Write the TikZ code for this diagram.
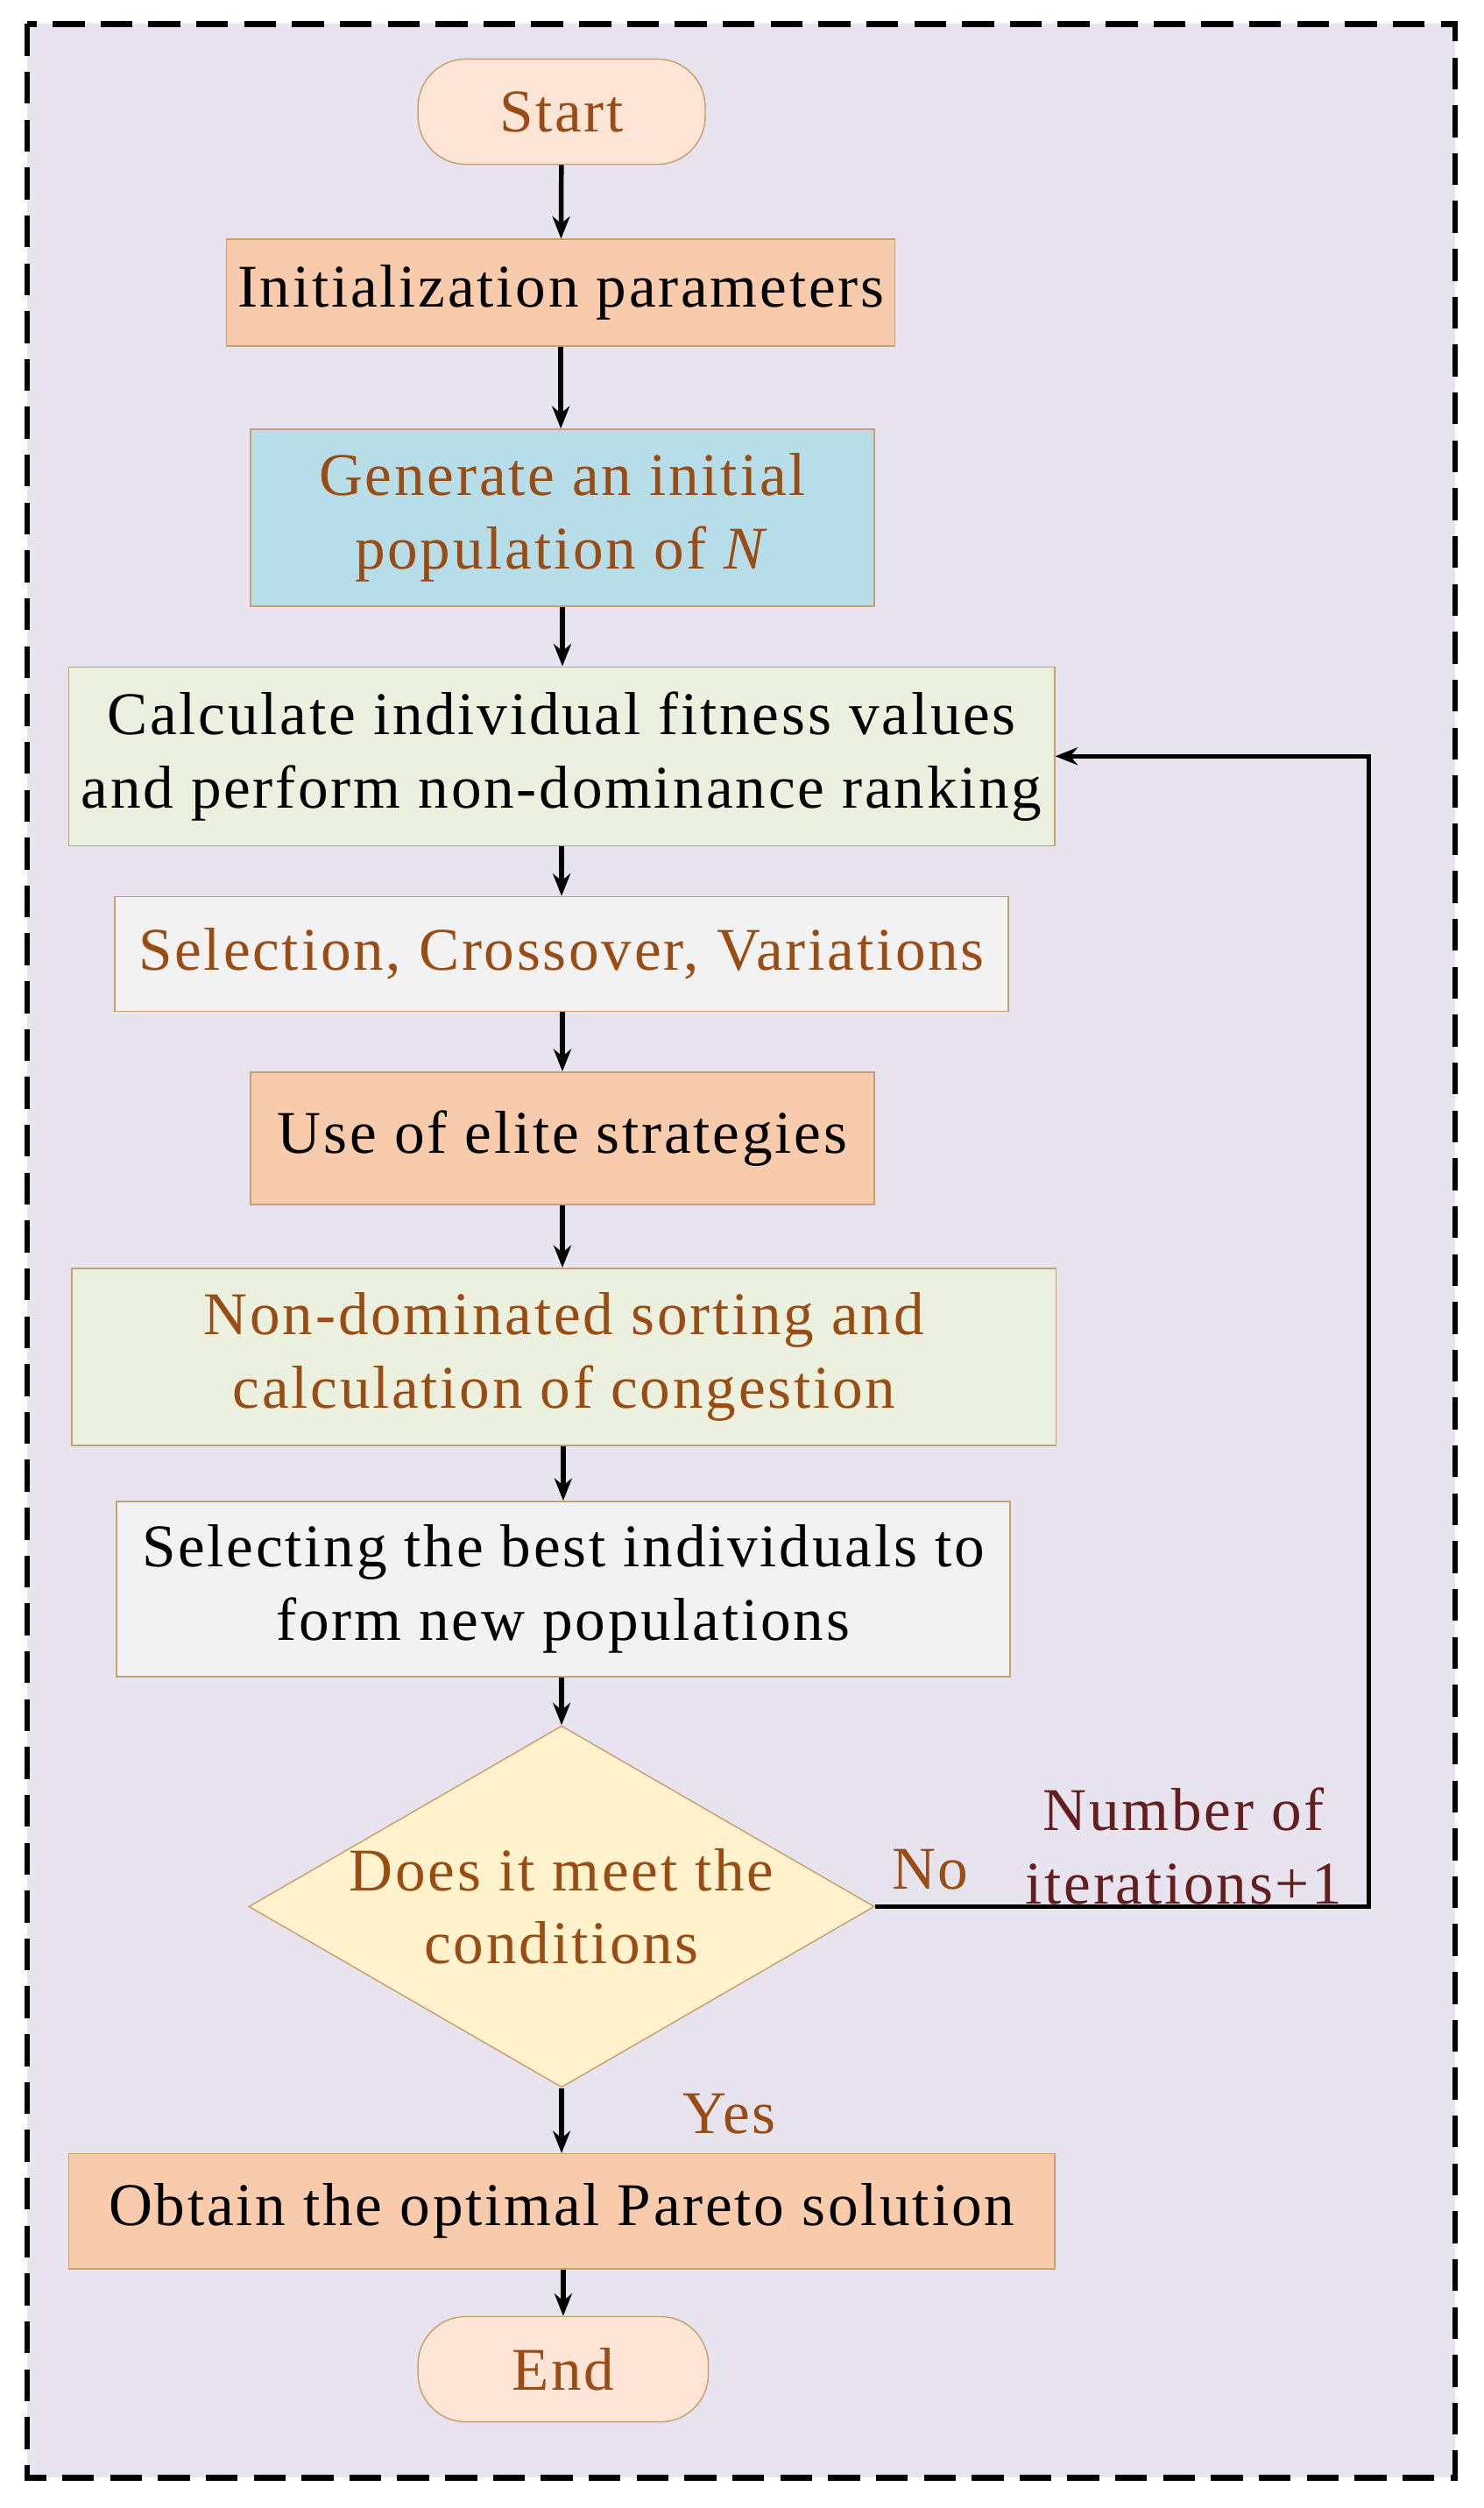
\documentclass[tikz,border=0pt]{standalone}
\usepackage{fontspec}
\setmainfont{Liberation Serif}
\usetikzlibrary{shapes.geometric,arrows.meta}
\definecolor{txo}{RGB}{153,76,20}
\definecolor{txr}{RGB}{100,30,30}
\definecolor{bg}{RGB}{231,228,239}
\definecolor{peach}{RGB}{248,203,173}
\definecolor{lpeach}{RGB}{252,228,214}
\definecolor{lblue}{RGB}{183,221,232}
\definecolor{lgreen}{RGB}{235,241,222}
\definecolor{lgray}{RGB}{242,242,242}
\definecolor{lyel}{RGB}{255,242,204}
\definecolor{bd}{RGB}{200,160,110}
\begin{document}
\begin{tikzpicture}[x=1pt,y=-1pt,
  box/.style={draw=bd,line width=0.8pt,inner sep=0pt,align=center,font=\fontsize{38}{46}\selectfont\addfontfeatures{LetterSpace=4}},
  ar/.style={-{Stealth[length=14pt,width=11pt]},line width=3pt},
  lab/.style={font=\fontsize{38}{46}\selectfont\addfontfeatures{LetterSpace=4},align=center}]
\useasboundingbox (0,0) rectangle (930,1572);
\fill[bg] (17,15) rectangle (912,1553);
\draw[line width=3.5pt,dash pattern=on 20pt off 10pt] (17,15) rectangle (912,1553);
\node[box,fill=lpeach,rounded corners=30pt,minimum width=180pt,minimum height=66pt,text=txo] (start) at (352,70) {Start};
\node[box,fill=peach,minimum width=419pt,minimum height=67pt] (init) at (351.5,183.5) {Initialization parameters};
\node[box,fill=lblue,minimum width=391pt,minimum height=111pt,text=txo] (gen) at (352.5,324.5) {Generate an initial\\population of \textit{N}};
\node[box,fill=lgreen,minimum width=618pt,minimum height=112pt] (calc) at (352,474) {Calculate individual fitness values\\and perform non-dominance ranking};
\node[box,fill=lgray,minimum width=560pt,minimum height=72pt,text=txo] (sel) at (352,598) {Selection, Crossover, Variations};
\node[box,fill=peach,minimum width=391pt,minimum height=83pt] (eli) at (352.5,713.5) {Use of elite strategies};
\node[box,fill=lgreen,minimum width=617pt,minimum height=111pt,text=txo] (non) at (353.5,850.5) {Non-dominated sorting and\\calculation of congestion};
\node[box,fill=lgray,minimum width=560pt,minimum height=110pt] (best) at (353,996) {Selecting the best individuals to\\form new populations};
\node[box,fill=lyel,diamond,aspect=1.73,minimum width=390pt,minimum height=224pt,text=txo] (dec) at (352,1195) {Does it meet the\\conditions};
\node[box,fill=peach,minimum width=618pt,minimum height=72pt] (obt) at (352,1386) {Obtain the optimal Pareto solution};
\node[box,fill=lpeach,rounded corners=30pt,minimum width=182pt,minimum height=66pt,text=txo] (end) at (353,1485) {End};
\draw[ar] (start) -- (init);
\draw[ar] (init) -- (init.south|-gen.north);
\draw[ar] (gen) -- (gen.south|-calc.north);
\draw[ar] (calc.south-|sel.north) -- (sel);
\draw[ar] (sel.south-|eli.north) -- (eli);
\draw[ar] (eli) -- (eli.south|-non.north);
\draw[ar] (non.south-|best.north) -- (best);
\draw[ar] (best.south-|dec.north) -- (dec);
\draw[ar] (dec) -- (obt);
\draw[ar] (obt.south-|end.north) -- (end);
\coordinate (c1) at (858,1195);
\coordinate (c2) at (858,474);
\draw[ar] (dec.east) -- (c1) -- (c2) -- (calc.east);
\node[lab,text=txo] (no) at (583,1172) {No};
\node[lab,text=txr] (iter) at (742,1157) {Number of\\iterations+1};
\node[lab,text=txo] (yes) at (457,1325) {Yes};
\end{tikzpicture}
\end{document}
